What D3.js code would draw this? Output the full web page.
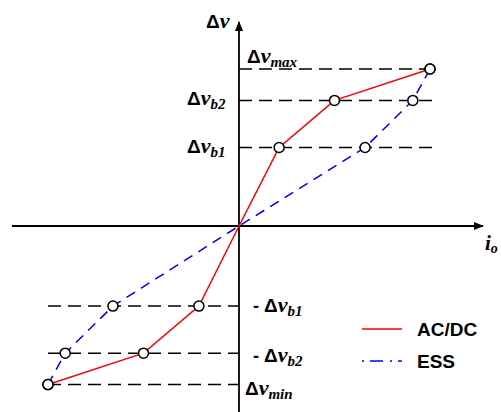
<!DOCTYPE html>
<html>
<head>
<meta charset="utf-8">
<script src="https://cdn.jsdelivr.net/npm/d3@7"></script>
<style>
  body { margin: 0; background: #fff; }
  .sans { font-family: "Liberation Sans", Arial, sans-serif; font-weight: bold; }
  .serif { font-family: "Liberation Serif", "Times New Roman", serif; font-weight: bold; font-style: italic; }
</style>
</head>
<body>
<svg id="chart" width="501" height="412"></svg>
<script>
// droop levels (normalised Δv)
const levelSubs = ["max", "b2", "b1", "b1", "b2", "min"];
const levelPrefix = ["", "", "", "- ", "- ", ""];
const levelValues = [1.0, 0.8, 0.5, -0.51, -0.81, -1.01];

// AC/DC curve
const acdcIo = [-1.0, -0.5, -0.21, 0, 0.21, 0.5, 1.0];
const acdcDv = [-1.01, -0.81, -0.51, 0, 0.5, 0.8, 1.0];

// ESS curve
const essIo = [-1.0, -0.91, -0.66, 0, 0.66, 0.91, 1.0];
const essDv = [-1.01, -0.81, -0.51, 0, 0.5, 0.8, 1.0];

const legendNames = ["AC/DC", "ESS"];

const svg = d3.select("#chart");

const x = d3.scaleLinear().domain([0, 1]).range([239, 430]);
const y = d3.scaleLinear().domain([0, 1]).range([226, 69]);

const defs = svg.append("defs");
defs.append("marker")
    .attr("id", "arrow")
    .attr("viewBox", "0 0 10 10")
    .attr("refX", 9).attr("refY", 5)
    .attr("markerWidth", 10).attr("markerHeight", 10)
    .attr("markerUnits", "userSpaceOnUse")
    .attr("orient", "auto")
    .append("path")
    .attr("d", "M0,1 L10,5 L0,9 Z")
    .attr("fill", "#000");

// axes
svg.append("line")
    .attr("x1", 12).attr("y1", y(0))
    .attr("x2", 483).attr("y2", y(0))
    .attr("stroke", "#000").attr("stroke-width", 1.8)
    .attr("marker-end", "url(#arrow)");
svg.append("line")
    .attr("x1", x(0)).attr("y1", 412)
    .attr("x2", x(0)).attr("y2", 22)
    .attr("stroke", "#000").attr("stroke-width", 1.8)
    .attr("marker-end", "url(#arrow)");

// dashed level lines
svg.selectAll(".level")
    .data(levelValues)
    .enter().append("line")
    .attr("class", "level")
    .attr("x1", d => d > 0 ? x(0) : x(-1.0))
    .attr("x2", d => d > 0 ? x(1.01) : x(0))
    .attr("y1", d => y(d)).attr("y2", d => y(d))
    .attr("stroke", "#000").attr("stroke-width", 1.5)
    .attr("stroke-dasharray", "13,7");

// curves
const line = d3.line().x(d => x(d[0])).y(d => y(d[1]));
const acdcPts = d3.zip(acdcIo, acdcDv);
const essPts = d3.zip(essIo, essDv);

svg.append("path")
    .attr("d", line(essPts))
    .attr("fill", "none").attr("stroke", "#0000ff").attr("stroke-width", 1.5)
    .attr("stroke-dasharray", "10,7");
svg.append("path")
    .attr("d", line(acdcPts))
    .attr("fill", "none").attr("stroke", "#ff0000").attr("stroke-width", 1.5);

// markers (skip origin)
const markerPts = acdcPts.concat(essPts).filter(d => d[0] !== 0);
svg.selectAll(".pt")
    .data(markerPts)
    .enter().append("circle")
    .attr("class", "pt")
    .attr("cx", d => x(d[0])).attr("cy", d => y(d[1]))
    .attr("r", 5)
    .attr("fill", "#fff").attr("stroke", "#000").attr("stroke-width", 1.5);

// level labels
function deltaLabel(g, px, py, prefix, sub) {
    const t = g.append("text").attr("x", px).attr("y", py);
    if (prefix) t.append("tspan").attr("class", "sans").attr("font-size", 18).text(prefix);
    t.append("tspan").attr("class", "sans").attr("font-size", 19).text("Δ");
    t.append("tspan").attr("class", "serif").attr("font-size", 22).text("v");
    if (sub) t.append("tspan").attr("class", "serif").attr("font-size", 15).attr("dy", 4).text(sub);
    return t;
}

const labelPos = [
    [247, 63], [187, 105], [187, 153],
    [253, 312], [253, 362], [245, 395]
];
levelValues.forEach((v, i) => {
    deltaLabel(svg, labelPos[i][0], labelPos[i][1], levelPrefix[i], levelSubs[i]);
});

// axis titles
deltaLabel(svg, 206, 28, "", "");
svg.append("text").attr("x", 485).attr("y", 250)
    .attr("class", "serif").attr("font-size", 21).text("i")
    .append("tspan").attr("font-size", 14).attr("dy", 3).text("o");

// legend
const legendY = [329, 361];
const legendColor = ["#ff0000", "#0000ff"];
const legendDash = [null, "2,6,13,7"];
legendNames.forEach((name, i) => {
    svg.append("line")
        .attr("x1", 362).attr("x2", 402)
        .attr("y1", legendY[i]).attr("y2", legendY[i])
        .attr("stroke", legendColor[i]).attr("stroke-width", 1.5)
        .attr("stroke-dasharray", legendDash[i]);
    svg.append("text")
        .attr("x", 417).attr("y", legendY[i] + 7)
        .attr("class", "sans").attr("font-size", 19)
        .text(name);
});
</script>
</body>
</html>
